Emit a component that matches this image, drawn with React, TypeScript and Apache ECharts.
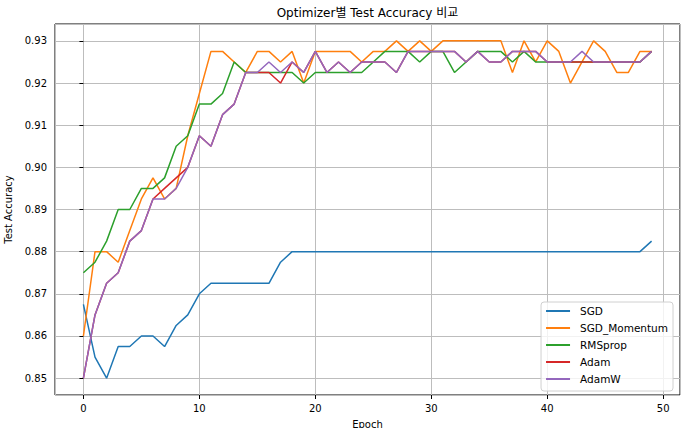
import React, { useEffect, useRef } from "react";
import * as echarts from "echarts";

const epochs: number[] = Array.from({ length: 50 }, (_, i) => i);

const sgd: number[] = [
  0.8675, 0.855, 0.85, 0.8575, 0.8575, 0.86, 0.86, 0.8575, 0.8625, 0.865,
  0.87, 0.8725, 0.8725, 0.8725, 0.8725, 0.8725, 0.8725, 0.8775, 0.88, 0.88,
  0.88, 0.88, 0.88, 0.88, 0.88, 0.88, 0.88, 0.88, 0.88, 0.88,
  0.88, 0.88, 0.88, 0.88, 0.88, 0.88, 0.88, 0.88, 0.88, 0.88,
  0.88, 0.88, 0.88, 0.88, 0.88, 0.88, 0.88, 0.88, 0.88, 0.8825,
];

const sgdMomentum: number[] = [
  0.86, 0.88, 0.88, 0.8775, 0.885, 0.8925, 0.8975, 0.8925, 0.895, 0.9075,
  0.9175, 0.9275, 0.9275, 0.925, 0.9225, 0.9275, 0.9275, 0.925, 0.9275, 0.92,
  0.9275, 0.9275, 0.9275, 0.9275, 0.925, 0.9275, 0.9275, 0.93, 0.9275, 0.93,
  0.9275, 0.93, 0.93, 0.93, 0.93, 0.93, 0.93, 0.9225, 0.93, 0.925,
  0.93, 0.9275, 0.92, 0.925, 0.93, 0.9275, 0.9225, 0.9225, 0.9275, 0.9275,
];

const rmsprop: number[] = [
  0.875, 0.8775, 0.8825, 0.89, 0.89, 0.895, 0.895, 0.8975, 0.905, 0.9075,
  0.915, 0.915, 0.9175, 0.925, 0.9225, 0.9225, 0.9225, 0.9225, 0.9225, 0.92,
  0.9225, 0.9225, 0.9225, 0.9225, 0.9225, 0.925, 0.9275, 0.9275, 0.9275, 0.925,
  0.9275, 0.9275, 0.9225, 0.925, 0.9275, 0.9275, 0.9275, 0.925, 0.9275, 0.925,
  0.925, 0.925, 0.925, 0.925, 0.925, 0.925, 0.925, 0.925, 0.925, 0.9275,
];

const adam: number[] = [
  0.85, 0.865, 0.8725, 0.875, 0.8825, 0.885, 0.8925, 0.895, 0.8975, 0.9,
  0.9075, 0.905, 0.9125, 0.915, 0.9225, 0.9225, 0.9225, 0.92, 0.925, 0.9225,
  0.9275, 0.9225, 0.925, 0.9225, 0.925, 0.925, 0.925, 0.9225, 0.9275, 0.9275,
  0.9275, 0.9275, 0.9275, 0.925, 0.9275, 0.925, 0.925, 0.9275, 0.9275, 0.9275,
  0.925, 0.925, 0.925, 0.925, 0.925, 0.925, 0.925, 0.925, 0.925, 0.9275,
];

const adamw: number[] = [
  0.85, 0.865, 0.8725, 0.875, 0.8825, 0.885, 0.8925, 0.8925, 0.895, 0.9,
  0.9075, 0.905, 0.9125, 0.915, 0.9225, 0.9225, 0.925, 0.9225, 0.925, 0.9225,
  0.9275, 0.9225, 0.925, 0.9225, 0.925, 0.925, 0.925, 0.9225, 0.9275, 0.9275,
  0.9275, 0.9275, 0.9275, 0.925, 0.9275, 0.925, 0.925, 0.9275, 0.9275, 0.9275,
  0.925, 0.925, 0.925, 0.9275, 0.925, 0.925, 0.925, 0.925, 0.925, 0.9275,
];

const seriesNames: string[] = ["SGD", "SGD_Momentum", "RMSprop", "Adam", "AdamW"];
const seriesColors: string[] = ["#1f77b4", "#ff7f0e", "#2ca02c", "#d62728", "#9467bd"];
const seriesValues: number[][] = [sgd, sgdMomentum, rmsprop, adam, adamw];

const titleText = "Optimizer별 Test Accuracy 비교";
const xName = "Epoch";
const yName = "Test Accuracy";

const FONT = "DejaVu Sans, Noto Sans CJK KR, sans-serif";

export default function App() {
  const ref = useRef<HTMLDivElement>(null);

  useEffect(() => {
    document.body.style.margin = "0";
    if (!ref.current) return;
    const chart = echarts.init(ref.current, undefined, { renderer: "svg" });

    const option: any = {
      animation: false,
      backgroundColor: "#ffffff",
      textStyle: { fontFamily: FONT },
      graphic: [
        {
          type: "text",
          x: 367.5,
          y: 12.5,
          style: {
            text: titleText,
            align: "center",
            verticalAlign: "middle",
            fontFamily: FONT,
            fontSize: 12,
            fill: "#000",
          },
        },
      ],
      grid: {
        left: 55,
        right: 3,
        top: 24,
        bottom: 33,
        containLabel: false,
        outerBoundsMode: "none",
        show: true,
        borderColor: "#000",
        borderWidth: 1,
        backgroundColor: "transparent",
      },
      legend: {
        orient: "vertical",
        right: 10,
        bottom: 37,
        icon: "rect",
        itemWidth: 24,
        itemHeight: 2,
        itemGap: 5,
        padding: [3, 5, 6, 5],
        backgroundColor: "rgba(255,255,255,0.8)",
        borderColor: "#d0d0d0",
        borderWidth: 1,
        borderRadius: 3,
        textStyle: {
          fontFamily: FONT,
          fontSize: 10.5,
          lineHeight: 12,
          color: "#000",
          padding: [0, 0, 0, 5],
        },
        data: seriesNames,
      },
      xAxis: {
        type: "value",
        min: -2.45,
        max: 51.45,
        splitNumber: 5,
        name: xName,
        nameLocation: "middle",
        nameGap: 24,
        nameTextStyle: { fontFamily: FONT, fontSize: 10, color: "#000" },
        axisLine: { show: false },
        axisTick: { show: true, length: 4, lineStyle: { color: "#000" } },
        axisLabel: {
          margin: 8,
          fontFamily: FONT,
          fontSize: 10,
          color: "#000",
          showMinLabel: false,
          showMaxLabel: false,
          formatter: (v: number) => String(Math.round(v)),
        },
        splitLine: { show: true, lineStyle: { color: "#bdbdbd", width: 1 } },
      },
      yAxis: {
        type: "value",
        min: 0.846,
        max: 0.934,
        splitNumber: 9,
        name: yName,
        nameLocation: "middle",
        nameGap: 38,
        nameTextStyle: { fontFamily: FONT, fontSize: 10, color: "#000" },
        axisLine: { show: false },
        axisTick: { show: true, length: 4, lineStyle: { color: "#000" } },
        axisLabel: {
          margin: 8,
          fontFamily: FONT,
          fontSize: 10,
          color: "#000",
          showMinLabel: false,
          showMaxLabel: false,
          formatter: (v: number) => v.toFixed(2),
        },
        splitLine: { show: true, lineStyle: { color: "#bdbdbd", width: 1 } },
      },
      series: seriesNames.map((name, k) => ({
        name,
        type: "line",
        data: epochs.map((e, i) => [e, seriesValues[k][i]]),
        showSymbol: false,
        symbol: "none",
        color: seriesColors[k],
        lineStyle: { color: seriesColors[k], width: 1.5 },
        emphasis: { disabled: true },
      })),
    };

    chart.setOption(option);
    return () => chart.dispose();
  }, []);

  return <div ref={ref} style={{ width: 683, height: 428 }} />;
}
